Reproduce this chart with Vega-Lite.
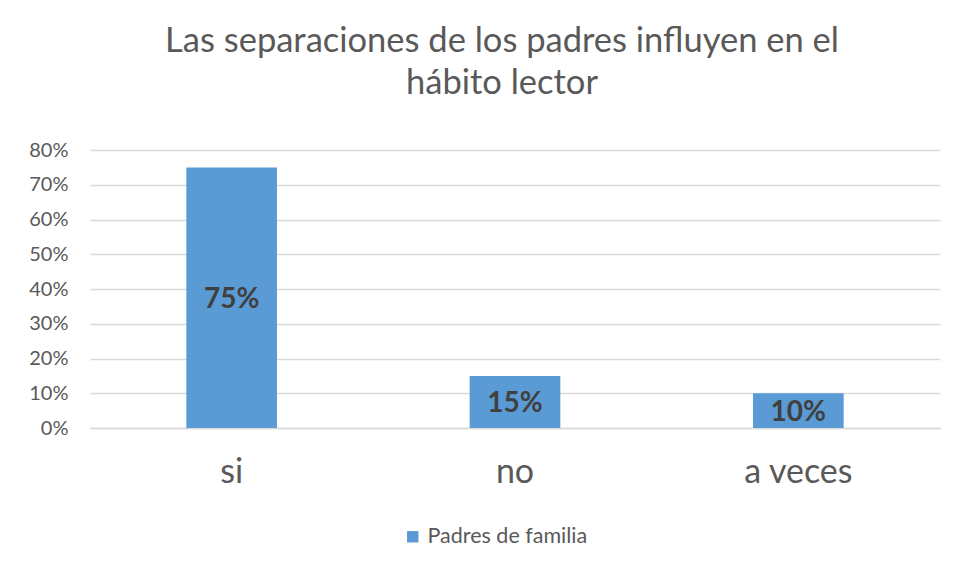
{
  "$schema": "https://vega.github.io/schema/vega-lite/v6.json",
  "width": 850,
  "height": 278,
  "autosize": {"type": "none"},
  "padding": {"left": 90, "top": 150, "right": 21, "bottom": 143},
  "background": "white",
  "title": {
    "text": ["Las separaciones de los padres influyen en el", "hábito lector"],
    "font": "Lato",
    "fontSize": 34.5,
    "fontWeight": "normal",
    "color": "#595959",
    "lineHeight": 42,
    "anchor": "middle",
    "dx": -13,
    "offset": 39
  },
  "data": {
    "values": [
      {"respuesta": "si", "valor": 0.75, "serie": "Padres de familia"},
      {"respuesta": "no", "valor": 0.15, "serie": "Padres de familia"},
      {"respuesta": "a veces", "valor": 0.10, "serie": "Padres de familia"}
    ]
  },
  "encoding": {
    "x": {
      "field": "respuesta",
      "type": "nominal",
      "sort": ["si", "no", "a veces"],
      "scale": {"paddingInner": 0.68, "paddingOuter": 0.34},
      "axis": {
        "title": null,
        "labelAngle": 0,
        "labelFont": "Lato",
        "labelFontSize": 34,
        "labelColor": "#595959",
        "labelPadding": 27,
        "ticks": false,
        "domainColor": "#D9D9D9",
        "domainWidth": 1.5
      }
    }
  },
  "layer": [
    {
      "mark": {"type": "bar", "color": "#5B9BD5"},
      "encoding": {
        "y": {
          "field": "valor",
          "type": "quantitative",
          "scale": {"domain": [0, 0.8]},
          "axis": {
            "title": null,
            "format": ".0%",
            "values": [0, 0.1, 0.2, 0.3, 0.4, 0.5, 0.6, 0.7, 0.8],
            "labelOverlap": false
          }
        },
        "color": {
          "field": "serie",
          "type": "nominal",
          "scale": {"range": ["#5B9BD5"]},
          "legend": {
            "title": null,
            "orient": "none",
            "legendX": 312,
            "legendY": 376,
            "direction": "horizontal",
            "symbolType": "square",
            "symbolSize": 130,
            "symbolStrokeWidth": 0,
            "labelFont": "Lato",
            "labelFontSize": 21.5,
            "labelColor": "#595959"
          }
        }
      }
    },
    {
      "transform": [{"calculate": "datum.valor / 2", "as": "medio"}],
      "mark": {"type": "text", "font": "Lato", "fontSize": 28, "fontWeight": "bold", "color": "#404040", "baseline": "middle", "dy": 2},
      "encoding": {
        "y": {
          "field": "medio",
          "type": "quantitative",
          "axis": {
            "title": null,
            "format": ".0%",
            "values": [0, 0.1, 0.2, 0.3, 0.4, 0.5, 0.6, 0.7, 0.8],
            "labelOverlap": false
          }
        },
        "text": {"field": "valor", "type": "quantitative", "format": ".0%"}
      }
    }
  ],
  "config": {
    "view": {"stroke": null},
    "axisY": {
      "labelOverlap": false,
      "labelFont": "Lato",
      "labelFontSize": 20,
      "labelColor": "#595959",
      "labelPadding": 22,
      "ticks": false,
      "domain": false,
      "gridColor": "#D9D9D9",
      "gridWidth": 1.5
    }
  }
}
